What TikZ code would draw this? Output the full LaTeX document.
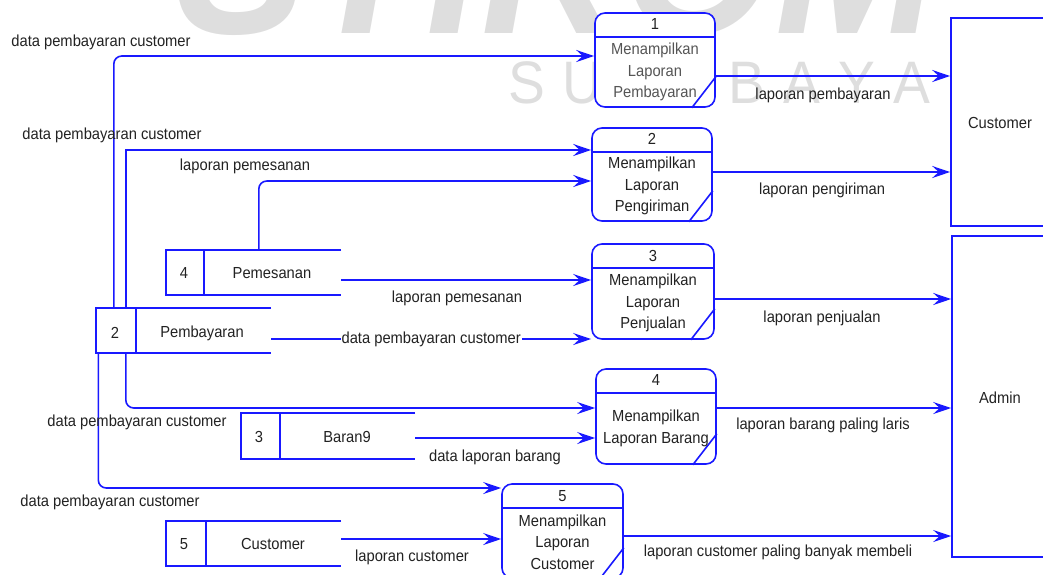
\documentclass[tikz,border=0pt]{standalone}
\usepackage{fontspec}
\setmainfont{Liberation Sans}[FakeStretch=0.92]
\usetikzlibrary{arrows.meta,calc}
\definecolor{flowblue}{RGB}{25,25,255}
\definecolor{ink}{RGB}{34,34,34}
\definecolor{inksoft}{RGB}{85,85,85}
\definecolor{mark}{RGB}{222,222,222}

\begin{document}
\begin{tikzpicture}[x=1pt,y=-1pt,
  every node/.style={font=\fontsize{16}{21.5}\selectfont, text=ink, inner sep=0pt},
  line/.style={draw=flowblue, line width=1.6pt},
  flow/.style={line, -{Stealth[length=18pt,width=12pt,inset=6.5pt]}},
  proc/.style={line, fill=white, rounded corners=10pt},
  store/.style={minimum width=#1},
  entity/.style={line},
  lbl/.style={},
]
\useasboundingbox (0,0) rectangle (1043,574);
\clip (0,0) rectangle (1043,574);

% background watermark
\node[text=mark, font=\fontsize{213}{213}\selectfont\bfseries\itshape, anchor=base west] (wmbig) at (176,33) {STIKOM};
\foreach \ch/\xx in {S/527,U/582,B/747,A/802,Y/857,A/912}
  \node[text=mark, font=\fontsize{60}{60}\selectfont, anchor=base] at (\xx,103) {\ch};

% external entities
\node[entity, minimum width=189pt, minimum height=208pt] (cust) at (1045.5,122) {};
\node (custt) at (1000,123) {Customer};
\node[entity, minimum width=188pt, minimum height=321pt] (admin) at (1046,396.5) {};
\node (admint) at (1000,398) {Admin};

% processes
\node[proc, minimum width=120pt, minimum height=94pt] (p1) at (655,60) {};
\node[proc, minimum width=120pt, minimum height=93pt] (p2) at (652,174.5) {};
\node[proc, minimum width=122pt, minimum height=95pt] (p3) at (653,291.5) {};
\node[proc, minimum width=120pt, minimum height=95pt] (p4) at (656,416.5) {};
\node[proc, minimum width=121pt, minimum height=94pt] (p5) at (562.5,531) {};
\foreach \p in {p1,p2,p3,p4,p5}{
  \draw[line] ([yshift=-25pt]\p.north west) -- ([yshift=-25pt]\p.north east);
  \draw[line] ([xshift=-24pt]\p.south east) -- ([yshift=31pt]\p.south east);
}
\node (p1n) at ([yshift=-12pt]p1.north) {1};
\node[align=center, text=inksoft] (p1t) at ([yshift=-60pt]p1.north) {Menampilkan\\Laporan\\Pembayaran};
\node (p2n) at ([yshift=-12pt]p2.north) {2};
\node[align=center] (p2t) at ([yshift=-59pt]p2.north) {Menampilkan\\Laporan\\Pengiriman};
\node (p3n) at ([yshift=-13pt]p3.north) {3};
\node[align=center] (p3t) at ([yshift=-60pt]p3.north) {Menampilkan\\Laporan\\Penjualan};
\node (p4n) at ([yshift=-12pt]p4.north) {4};
\node[align=center] (p4t) at ([yshift=-60pt]p4.north) {Menampilkan\\Laporan Barang};
\node (p5n) at ([yshift=-13pt]p5.north) {5};
\node[align=center] (p5t) at ([yshift=-59pt]p5.north) {Menampilkan\\Laporan\\Customer};

% data stores
\node[store=175pt, minimum height=45pt] (s4) at (253.5,272.5) {};
\node[store=175pt, minimum height=45pt] (s2) at (183.5,330.5) {};
\node[store=174pt, minimum height=46pt] (s3) at (328,436) {};
\node[store=175pt, minimum height=45pt] (s5) at (253.5,543.5) {};
\foreach \s/\d in {s4/38,s2/40,s3/39,s5/40}{
  \draw[line] (\s.north east) -- (\s.north west) -- (\s.south west) -- (\s.south east);
  \draw[line] ([xshift=\d pt]\s.north west) -- ([xshift=\d pt]\s.south west);
}
\node (s4n) at (184,273) {4};
\node (s4t) at (272,273) {Pemesanan};
\node (s2n) at (115,333) {2};
\node (s2t) at (202,333) {Pembayaran};
\node (s3n) at (259,437) {3};
\node (s3t) at (347,437) {Baran9};
\node (s5n) at (184,544) {5};
\node (s5t) at (273,544) {Customer};

% flows into the processes
\draw[flow, rounded corners=8pt] ([xshift=18pt]s2.north west) |- ([yshift=4pt]p1.west);
\draw[flow] ([xshift=30pt]s2.north west) |- ([yshift=24.5pt]p2.west);
\draw[flow, rounded corners=8pt] ([xshift=93pt]s4.north west) |- ([yshift=-6.5pt]p2.west);
\coordinate (f4s) at ([yshift=-7.5pt]s4.east);
\draw[flow] (f4s) -- (f4s -| p3.west);
\coordinate (f5s) at ([yshift=-8.5pt]s2.east);
\draw[flow] (f5s) -- node[fill=white, inner xsep=1pt, inner ysep=1pt] (l5) {data pembayaran customer} (f5s -| p3.west);
\draw[flow, rounded corners=8pt] ([xshift=30pt]s2.south west) |- ([yshift=8.5pt]p4.west);
\coordinate (f7s) at ([yshift=-2pt]s3.east);
\draw[flow] (f7s) -- (f7s -| p4.west);
\draw[flow, rounded corners=8pt] ([xshift=2.5pt]s2.south west) |- ([yshift=43pt]p5.west);
\coordinate (f9s) at ([yshift=4.5pt]s5.east);
\draw[flow] (f9s) -- (f9s -| p5.west);

% flows out to the entities
\coordinate (o1s) at ([yshift=-16pt]p1.east);
\draw[flow] (o1s) -- (o1s -| cust.west);
\coordinate (o2s) at ([yshift=2.5pt]p2.east);
\draw[flow] (o2s) -- (o2s -| cust.west);
\coordinate (o3s) at ([yshift=-7.5pt]p3.east);
\draw[flow] (o3s) -- (o3s -| admin.west);
\coordinate (o4s) at ([yshift=8.5pt]p4.east);
\draw[flow] (o4s) -- (o4s -| admin.west);
\coordinate (o5s) at ([yshift=-5pt]p5.east);
\draw[flow] (o5s) -- (o5s -| admin.west);

% flow labels
\node[lbl] (l1) at (101,42) {data pembayaran customer};
\node[lbl] (l2) at (112,135) {data pembayaran customer};
\node[lbl] (l3) at (245,166) {laporan pemesanan};
\node[lbl] (l4) at (457,298) {laporan pemesanan};
\node[lbl] (l6) at (137,422) {data pembayaran customer};
\node[lbl] (l7) at (495,457) {data laporan barang};
\node[lbl] (l8) at (110,502) {data pembayaran customer};
\node[lbl] (l9) at (412,557) {laporan customer};
\node[lbl] (lo1) at (823,95) {laporan pembayaran};
\node[lbl] (lo2) at (822,190) {laporan pengiriman};
\node[lbl] (lo3) at (822,318) {laporan penjualan};
\node[lbl] (lo4) at (823,425) {laporan barang paling laris};
\node[lbl] (lo5) at (778,552) {laporan customer paling banyak membeli};
\end{tikzpicture}
\end{document}
